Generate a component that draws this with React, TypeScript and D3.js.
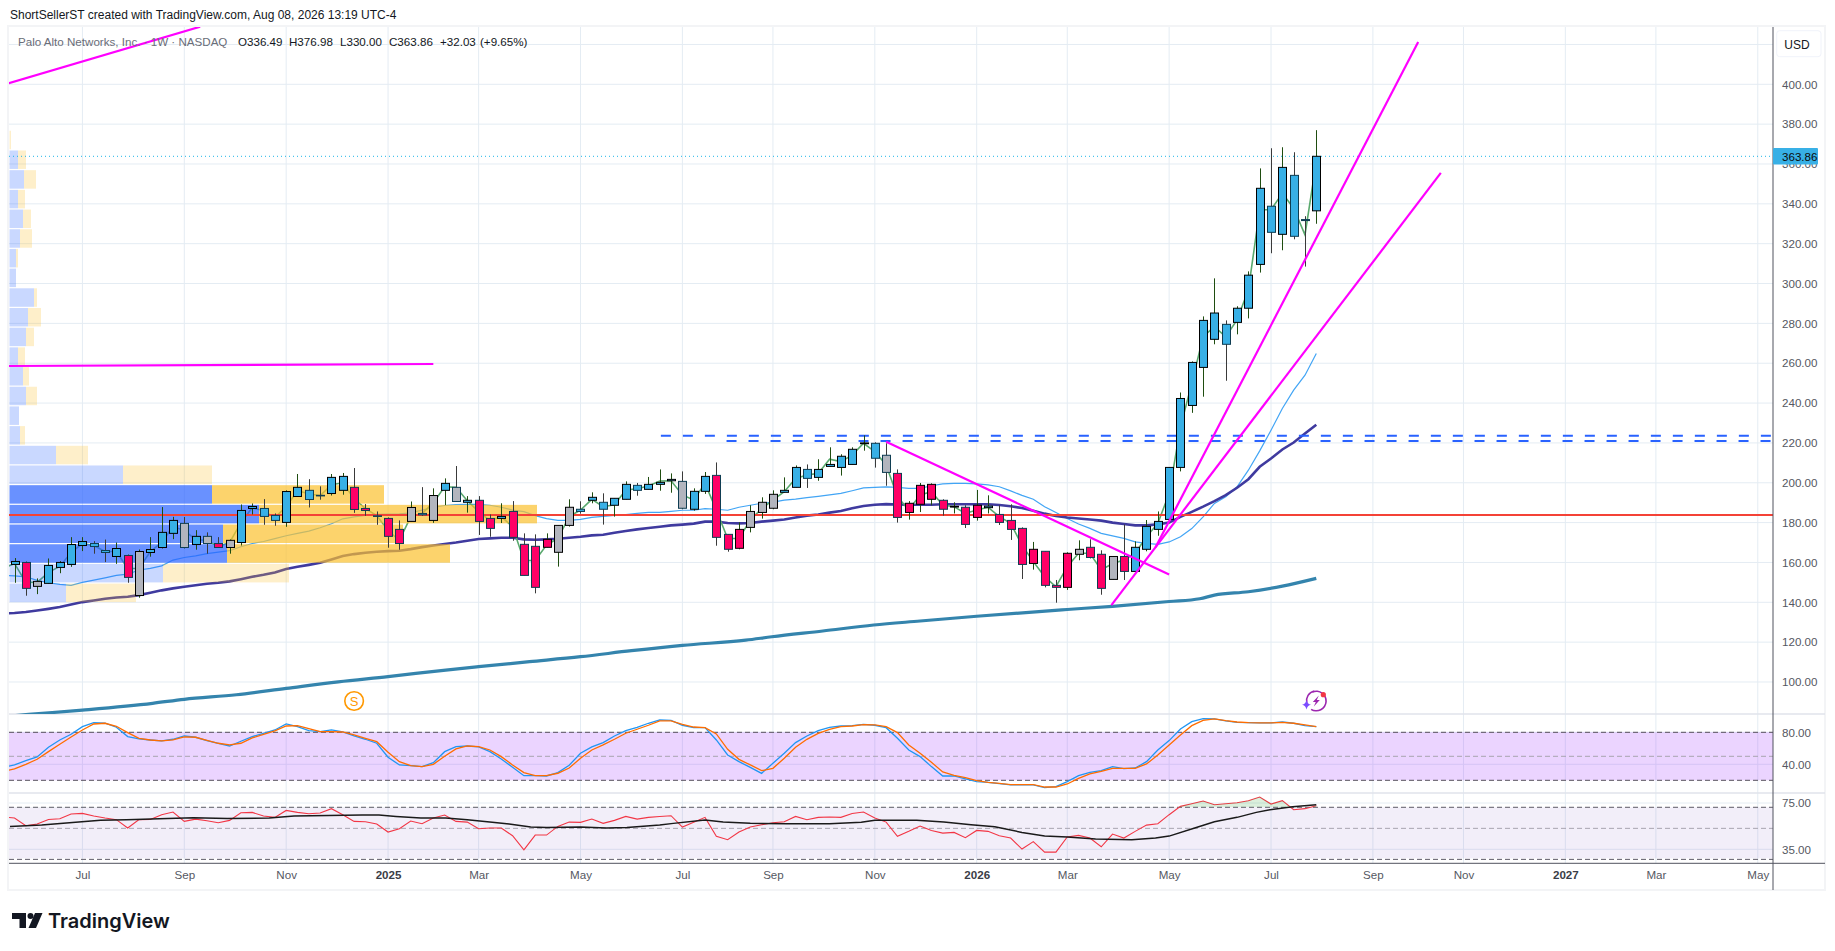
import { useEffect, useRef } from 'react';
import * as d3 from 'd3';

// weekly bars, PANW, index 0 = week of 2024-05-20
const opens = [
  159, 160, 148, 149.5, 157.5, 159, 168.5, 168, 165, 163,
  163.5, 143.4, 165, 167.5, 174.6, 179.6, 169, 173.1, 169.5, 167.5,
  170, 187.1, 183.1, 181.1, 180.1, 193.1, 191.6, 193.4, 194.6, 196.2,
  197.7, 187.1, 183.4, 182.1, 176.6, 180.6, 183.9, 181.1, 196.2, 197.7,
  190.2, 191.2, 182.1, 182.1, 185.6, 169.1, 168.1, 171.6, 165.1, 178.6,
  185.6, 191.2, 186.7, 188.7, 191.7, 196.2, 196.7, 199.2, 201, 200.7,
  186.7, 195.7, 203.7, 174.1, 176.6, 177.6, 185.1, 187.2, 195.2, 197.7,
  202.2, 202.7, 208.2, 207.7, 209.2, 219.6, 212.3, 213.8, 204.7, 189.7,
  198.7, 199.2, 191.2, 188.2, 187.7, 188.7, 188.3, 184.1, 181.1, 177.1,
  166.6, 165.6, 148.5, 147.5, 164.1, 167.6, 164.1, 151.5, 163, 155.5,
  166.6, 176.6, 181.6, 207.7, 238.8, 257.9, 272, 269.5, 280.5, 287.6,
  309.6, 325.7, 324.7, 323.7, 331.6, 336.49,
];
const highs = [
  162.2, 160.5, 152, 162, 160.7, 172.7, 172.7, 170.7, 171.5, 170,
  164, 166.5, 172.7, 187.8, 182.9, 182.8, 176.2, 175.1, 172.7, 171.5,
  189.1, 189.6, 191.8, 184.6, 196.2, 204.4, 201.8, 198.2, 204.4, 204.9,
  207.4, 189.3, 185.6, 182.6, 181.1, 190.6, 197.8, 197.2, 202.2, 208.4,
  193.3, 193.3, 184.1, 189.7, 190.8, 174.6, 174.1, 174.6, 178.6, 191.7,
  190.7, 195.2, 194.7, 192.2, 200.7, 199.9, 202.9, 206.7, 204.7, 205.7,
  197.2, 205.4, 210.2, 174.1, 180.1, 188.7, 192.7, 196.2, 202.7, 208.7,
  209.2, 211.8, 217.8, 214.3, 217.8, 223.8, 220.3, 219.8, 206.7, 190.8,
  199.9, 199.7, 191.7, 190.2, 188.7, 196.4, 193.7, 188.7, 189.2, 177.6,
  170.3, 165.6, 151.2, 165.1, 171.1, 171.6, 166.1, 163, 179.1, 170.6,
  181.3, 185.6, 207.7, 245.3, 260.9, 283.5, 302.6, 281.5, 288.6, 306.1,
  357.8, 367.9, 368.4, 365.9, 333.8, 376.98,
];
const lows = [
  149.8, 143.3, 144.1, 149.5, 154.6, 157.8, 165.7, 164.4, 160.2, 159.3,
  149.8, 142.3, 162.9, 167, 171.7, 167, 166.4, 164.4, 167.5, 164.4,
  168.5, 184.1, 178.9, 178.4, 177.9, 193.1, 187.6, 191.5, 193.6, 194,
  184.9, 183.4, 178.9, 167.4, 166.4, 180.6, 183.4, 179.9, 188.8, 190.6,
  185, 173.8, 172.9, 179.8, 170.9, 153.5, 144.5, 167.6, 157.9, 178,
  184.5, 189.7, 179, 183, 191.7, 193.5, 196.7, 196, 195, 186.7,
  186, 194.4, 168.4, 165.4, 166.6, 175.1, 182, 186.7, 195.2, 197.7,
  197.4, 201, 208.2, 203.6, 209.2, 216.1, 207.6, 198.5, 180, 181.5,
  185.3, 188.7, 183.5, 184.6, 177.3, 181, 184.6, 178.8, 171.3, 151.7,
  156.4, 147.5, 139.8, 146.2, 161.1, 162, 143.8, 151.5, 151.2, 155.5,
  165.6, 173.4, 179.9, 205.7, 235.1, 243.2, 269.5, 251.2, 274.5, 282.5,
  305.5, 315.2, 316.7, 322.2, 308.5, 330,
];
const closes = [
  160.5, 147, 150.5, 158.5, 160, 169, 170.5, 169.5, 166, 167,
  152.5, 165.5, 166.5, 175.1, 181.1, 167.5, 173.1, 169.5, 167.5, 171.1,
  186.1, 188.1, 187.1, 183.6, 195.6, 197.7, 196.2, 193.7, 202.7, 203.2,
  186.6, 186.1, 183.1, 173.1, 169.5, 187.6, 184.6, 193.6, 199.7, 190.6,
  191.2, 180.6, 177.1, 183.1, 172.6, 153.5, 147.5, 167.6, 178.6, 187.7,
  186.7, 192.7, 190.2, 192.2, 199.2, 198.7, 199.2, 200.2, 201.7, 187.2,
  195.7, 203.2, 172.6, 166.6, 167.1, 185.6, 190.2, 194.2, 196.2, 207.7,
  206.7, 206.7, 209.2, 213.3, 216.8, 220, 219.8, 205.2, 182.6, 185.1,
  189.2, 191.7, 186.7, 187.8, 179.1, 182.6, 187.5, 180.1, 176.6, 159,
  159.5, 148.5, 147.5, 164.6, 166.6, 162.5, 147, 163, 155.5, 167.6,
  178.1, 180.6, 207.7, 242.3, 260.4, 281.5, 285.2, 279.5, 287.6, 304.2,
  347.8, 338.8, 358.3, 354.3, 332.1, 363.86,
];
// b = blue, p = pink, g = gray bar paint
const barTone = ('bpgbbbbbbb' + 'pgbbbgbgpg' + 'bbbbbbbbbb' + 'ppbppgbgbg' + 'bppbppppgg' + 'bbbbbbbbbg' +
  'bbpppgggbb' + 'bbbbbbbgpp' + 'pppbppbppp' + 'ppppgppgpb' + 'bbbbbbbbbb' + 'bbbbbb').split('');

const smoothLine = [
  159.5, 150, 150, 155, 158, 165, 169.5, 168.5, 165.5, 165.5,
  157, 157, 165.5, 170, 178, 176, 171.5, 171, 168, 170,
  180, 187.5, 186, 182.5, 188, 196, 194.5, 193.5, 199, 200,
  192, 187, 183.5, 176, 171, 183, 184.5, 190, 198, 197.7,
  191, 185.5, 181, 183, 178, 161, 161, 168.7, 172, 183,
  186.3, 191.7, 188, 189, 196.4, 197, 198.4, 200.9, 201, 193.9,
  191.3, 199.7, 186.3, 172, 172, 181.3, 187, 191.3, 195.5, 202.2,
  203.9, 204.7, 211.8, 210.6, 213.9, 219.8, 215.6, 208.9, 193, 186.3,
  193.9, 195.5, 188.8, 188, 184.6, 186.3, 187.7, 183, 179.6, 168.7,
  160.4, 152.9, 147.8, 157.9, 164.6, 164.6, 156.2, 159.5, 161.2, 164.6,
  172.9, 179.6, 194.6, 228, 249.9, 273.3, 278.4, 273.3, 281.7, 296.8,
  337, 337, 345.3, 337.8, 324.4, 361.2,
];
const maFast = [
  153.3, 152.8, 151, 149.8, 149, 148.5, 150, 151.1, 152.3, 153.5,
  154.1, 156.2, 157, 158.3, 161.2, 162.5, 163.3, 164.4, 165.2, 165.9,
  167.9, 169.5, 170.5, 172, 173.4, 174.6, 175.7, 177.4, 179.4, 181.9,
  182.9, 183.6, 184.1, 184.3, 184.4, 184.9, 186.3, 187.6, 188.6, 189.1,
  189.2, 189.2, 188.7, 187.7, 186.3, 185.5, 183.5, 182, 181.1, 181.1,
  181.6, 182.6, 183.1, 183.6, 184, 184.6, 185.1, 185.1, 185.6, 186.2,
  186.2, 187, 186.7, 186.2, 187.7, 188.7, 189.7, 190.3, 191.3, 191.8,
  192.5, 193.2, 193.9, 194.7, 196, 197.4, 197.7, 197.9, 197.7, 197.2,
  197.2, 198.5, 199.4, 199.7, 199.7, 199.4, 198.9, 198, 195.9, 193.7,
  191.7, 188, 185.1, 182.1, 179.3, 177.1, 174.6, 173.3, 172.1, 170.3,
  169.6, 169.1, 170.3, 172.9, 177, 182.9, 189.6, 193, 198, 206.3,
  216, 226.4, 237.3, 246.5, 254, 264.9,
];
const maMid = [
  134.6, 135.1, 135.9, 136.7, 137.6, 138.9, 140.1, 140.9, 141.8, 142.4,
  142.8, 143.6, 144.8, 146, 147, 147.8, 148.6, 149.3, 149.8, 150.5,
  151.6, 152.8, 153.8, 155, 156.7, 157.8, 158.8, 159.8, 161.5, 163.2,
  164.2, 164.9, 165.4, 165.7, 165.9, 166.7, 167.7, 168.5, 169.3, 170,
  170.9, 171.8, 172.1, 172.4, 172.4, 171.6, 171.4, 171.6, 171.9, 172.4,
  172.9, 173.6, 173.9, 174.9, 175.8, 176.6, 177.3, 177.9, 178.6, 179,
  179.5, 180.5, 180.5, 179.8, 179.6, 179.8, 180.5, 181, 181.6, 182.6,
  183.5, 184.1, 185, 185.8, 187.2, 188.3, 189, 189.3, 189.1, 189,
  189, 189, 189.2, 189.2, 189.2, 189.2, 189.2, 188.8, 188.2, 187.3,
  186, 184.5, 183.3, 182.6, 182.1, 181.6, 181, 180, 179.3, 178.6,
  178.6, 179.1, 180, 182.9, 185.4, 188, 190.8, 193.8, 197.5, 201.8,
  208, 212.2, 216.7, 220.2, 224.7, 229.1,
];
// long average read at the points where it could be read
const maSlowWeek = [-1, 1.25, 6, 12.2, 15, 19.6, 24, 28.6, 33, 38.1, 41, 45.5, 50, 54.5, 59, 64.6, 66.9, 71.4, 75.9, 80, 85, 93, 97, 102, 104.7, 106, 109, 112, 115];
const maSlowVal = [82.6, 83.7, 85.9, 89.3, 91.3, 93.6, 96.8, 100.1, 102.7, 106, 107.7, 110.2, 112.7, 115.7, 118.4, 121, 122.7, 125.6, 128.6, 130.6, 133, 136.4, 138, 140.4, 141.8, 143.6, 145.3, 148.1, 152];

const stochK = [
  39.2, 44.6, 49.2, 61.3, 70.4, 77.5, 87.1, 92.1, 91.3, 86.3,
  74.6, 71.7, 70.4, 69.2, 71.3, 75.4, 73.8, 69.6, 66.3, 62.9,
  68.8, 74.6, 78.8, 82.9, 90.4, 87.1, 82.1, 80.8, 82.9, 80.4,
  75.4, 71.3, 66.3, 48.8, 39.2, 38.3, 37.1, 42.1, 55.8, 62.1,
  62.9, 61.7, 55.8, 46.7, 36.3, 25.8, 25.8, 25.4, 29.6, 38.8,
  53.8, 61.7, 67.1, 75.4, 82.1, 86.3, 91.3, 95.4,
  95, 88.8, 85.8, 85.8, 70.4, 51.7, 43.3, 36.2, 28.7, 41.2, 53.7, 67.1,
  75.4, 82.1, 86.2, 87.9, 88.3, 90, 88.8, 85.8, 72.5, 57.9,
  49.6, 37.1, 25.4, 25.4, 21.7, 18.3, 17.5, 15.8, 14.2, 14.6,
  14.2, 10.8, 12.1, 18.3, 25.8, 30, 32.1, 37.1, 34.6, 35.4,
  43.3, 57.9, 69.6, 84.2, 93.3, 97.1, 96.7, 94.2, 92.5, 92.1,
  91.7, 91.7, 92.9, 91.3, 88.3, 87.1,
];
const stochD = [
  34.2, 40, 46.3, 55.8, 65, 74.2, 82.9, 90.4, 91.3, 87.5,
  79.6, 72.5, 70.4, 69.2, 70.4, 74.2, 73.8, 70, 66.3, 64.2,
  66.3, 72.9, 77.5, 81.7, 87.9, 88.3, 84.6, 80.8, 80.8, 80.4,
  76.7, 72.5, 68.3, 55, 43.3, 38.3, 37.1, 40, 50, 59.2,
  62.9, 62.1, 57.9, 49.6, 39.2, 29.6, 25.8, 25.8, 28.8, 35.4,
  47.5, 57.9, 64.2, 71.3, 78.8, 83.8, 88.8, 94.2,
  94.2, 90, 86.6, 85.8, 77.9, 58.7, 46.2, 39.2, 32.1, 35, 47.5, 61.2,
  71.2, 78.7, 83.7, 87.1, 87.9, 89.6, 89.2, 87.1, 79.6, 64.2,
  53.7, 42.5, 30.4, 26.2, 23.3, 19.6, 17.5, 16.2, 14.6, 14.6,
  14.6, 11.6, 11.6, 15.4, 22.5, 27.9, 31.2, 35, 35, 35,
  40.4, 51.7, 64.2, 76.7, 88.3, 95, 96.7, 94.6, 92.9, 92.1,
  91.7, 91.7, 92.5, 91.3, 89.2, 87.1,
];
const rsiLine = [
  62, 55.4, 56.8, 60.8, 61.4, 65.5, 66, 63.7, 62, 60.6,
  53.4, 60.6, 60.8, 64.9, 67.2, 59.1, 61.1, 59.7, 58, 60,
  66.6, 66.9, 63.7, 62.6, 68.6, 66.9, 65.7, 66.3, 70.1, 64.9,
  59.1, 58.8, 56.8, 49.9, 52.8, 59.4, 57.1, 62, 64.6, 59.1,
  58.5, 52.8, 53.4, 53.4, 46.7, 34.6, 47.3, 47.3, 54.8, 58.5,
  58.3, 61.1, 57.4, 60, 63.4, 61.1, 62.6, 63.4,
  64, 54.2, 58.3, 62.6, 46.2, 43.3, 49.9, 54.2, 56.2, 58, 58.8, 63.4,
  60.6, 62.6, 62.9, 62.6, 66, 67.2, 62, 58.5, 46.2, 50.5,
  55.1, 51.3, 49, 49.6, 45, 51.3, 50.5, 46.7, 44.7, 35.2,
  41.6, 32.6, 32.6, 45.6, 47, 44.7, 37.2, 48.2, 44.7, 50.5,
  55.9, 57.1, 64.9, 72.1, 74.4, 76.7, 73.5, 74.4, 75.2, 77,
  80.1, 74.1, 77, 69.2, 70.1, 72.7,
];
const rsiMaWeek = [-0.4, 2.4, 5.4, 7.6, 9.9, 12.8, 15.8, 18.8, 22.5, 24.7, 27.7, 30.7, 32.2, 33.7, 35.9, 38.1, 40, 42.2, 43.7, 45.6, 47, 50, 52.3, 54.1, 57, 58.2, 61, 62.6, 65, 68.3, 72, 74.8, 76, 79.7, 82.1, 84.5, 86.6, 89, 91, 93, 95.5, 98.7, 100.8, 102, 104.4, 106, 108, 109.7, 110.9, 112.9, 115];
const rsiMaVal = [54.8, 56, 58.3, 60, 60.6, 61.4, 62.3, 61.7, 62, 63.7, 64.3, 64.6, 64.6, 63.4, 62, 62, 60.6, 58.3, 56.8, 54.2, 53.9, 54.2, 53.4, 53.9, 56, 57.4, 60.3, 58.5, 57.4, 57.1, 57.1, 58.3, 60, 60, 58.5, 56.2, 54.5, 49.6, 46.4, 45.6, 43.9, 43.3, 44.7, 46.4, 53.9, 58.8, 62.6, 66.9, 69.2, 71.8, 73.5];

// values one bar before the first one, they run off the left edge
const leadIn = { smooth: 157, maFast: 153.5, maMid: 134.4, stochK: 36, stochD: 31, rsi: 63 };

// visible range volume profile, 24 rows from the low up
const vpLow = 139.8;
const vpStep = 9.882;
const vpUp = [56.5, 153.5, 217.5, 213.5, 249.5, 202.5, 113.5, 46.5, 10.5, 9.5, 16.5, 13.5, 8.5, 16.5, 18.5, 24.5, 6.5, 6.5, 10.5, 13.5, 8.5, 14.5, 8.5, 0];
const vpDown = [70, 126, 223, 180, 278, 172, 89, 32, 5, 0, 11, 6, 7, 8, 13, 3, 0, 2, 12, 8, 7, 12, 8, 1.5];
const vpValueArea = [2, 3, 4, 5];

const priceTicks = d3.range(100, 401, 20);
const stochTicks = [40, 80];
const rsiTicks = [35, 75];
const stochLevels = [80, 50, 20];
const rsiLevels = [71.3, 53.1, 26.3];
const timeWeeks = [6, 15, 24, 33, 41, 50, 59, 67, 76, 85, 93, 102, 111, 120, 128, 137, 145, 154];
const timeLabels = ['Jul', 'Sep', 'Nov', '2025', 'Mar', 'May', 'Jul', 'Sep', 'Nov', '2026', 'Mar', 'May', 'Jul', 'Sep', 'Nov', '2027', 'Mar', 'May'];

const pocPrice = 183.8;
const lastPrice = 363.86;
const dashedLevels = [
  { price: 223.6, from: 57.1 },
  { price: 221, from: 62.9 },
];
// trendlines as [week, price] ends
const trendLines = [
  [[-0.5, 400.5], [16.4, 428.9]],
  [[-0.5, 258.6], [37, 259.6]],
  [[77, 220.6], [102, 154]],
  [[96.9, 138.6], [126, 355.5]],
  [[100.8, 167.6], [124, 421.2]],
];

const WIDTH = 1835;
const HEIGHT = 951;
const LEFT = 9;
const RIGHT = 1773;
const TOP = 27;
const MAIN_BOTTOM = 714;
const STOCH_BOTTOM = 793;
const RSI_BOTTOM = 863.3;
const FRAME_RIGHT = 1825;
const FRAME_BOTTOM = 890;
const FONT = '"Liberation Sans", Arial, sans-serif';
const GRID = '#e4ecf3';

export default function App() {
  const svgRef = useRef<SVGSVGElement>(null);

  useEffect(() => {
    if (!svgRef.current) return;
    d3.select(svgRef.current).selectAll('*').remove();
    const svg = d3.select(svgRef.current);

    const x = d3.scaleLinear().domain([0, 115]).range([14.5, 1316.3]);
    const y = d3.scaleLinear().domain([140, 400]).range([602.3, 84.3]);
    const yStoch = d3.scaleLinear().domain([20, 80]).range([780.3, 732.3]);
    const yRsi = d3.scaleLinear().domain([35, 75]).range([849.3, 803]);
    const vpX = d3.scaleLinear().domain([0, 527.5]).range([9.5, 537]);

    const defs = svg.append('defs');
    defs.append('clipPath').attr('id', 'mainClip').append('rect')
      .attr('x', LEFT).attr('y', TOP).attr('width', RIGHT - LEFT).attr('height', MAIN_BOTTOM - TOP);
    defs.append('clipPath').attr('id', 'paneClip').append('rect')
      .attr('x', LEFT).attr('y', MAIN_BOTTOM).attr('width', RIGHT - LEFT).attr('height', RSI_BOTTOM - MAIN_BOTTOM);
    defs.append('clipPath').attr('id', 'rsiTop').append('rect')
      .attr('x', LEFT).attr('y', 793).attr('width', RIGHT - LEFT).attr('height', yRsi(rsiLevels[0]) - 793);

    svg.append('rect').attr('width', WIDTH).attr('height', HEIGHT).attr('fill', '#fff');
    svg.append('rect')
      .attr('x', 8).attr('y', 26).attr('width', FRAME_RIGHT - 8).attr('height', FRAME_BOTTOM - 26)
      .attr('fill', '#fff').attr('stroke', '#f3f4f6').attr('stroke-width', 2);

    // grid
    const grid = svg.append('g').attr('stroke', GRID).attr('stroke-width', 1);
    timeWeeks.forEach(w => {
      grid.append('line').attr('x1', x(w)).attr('x2', x(w)).attr('y1', TOP).attr('y2', RSI_BOTTOM);
    });
    priceTicks.concat([420]).forEach(p => {
      grid.append('line').attr('x1', LEFT).attr('x2', RIGHT).attr('y1', y(p)).attr('y2', y(p));
    });
    stochTicks.forEach(v => {
      grid.append('line').attr('x1', LEFT).attr('x2', RIGHT).attr('y1', yStoch(v)).attr('y2', yStoch(v));
    });
    rsiTicks.forEach(v => {
      grid.append('line').attr('x1', LEFT).attr('x2', RIGHT).attr('y1', yRsi(v)).attr('y2', yRsi(v));
    });
    [MAIN_BOTTOM, STOCH_BOTTOM].forEach(py => {
      svg.append('line').attr('x1', LEFT).attr('x2', FRAME_RIGHT).attr('y1', py).attr('y2', py)
        .attr('stroke', '#e0e3eb').attr('stroke-width', 1.5);
    });

    const main = svg.append('g').attr('clip-path', 'url(#mainClip)');
    const panes = svg.append('g').attr('clip-path', 'url(#paneClip)');

    const lineOf = (vals: number[], lead: number, sy: d3.ScaleLinear<number, number>) =>
      d3.line<number>().x((_, i) => x(i - 1)).y(d => sy(d))([lead, ...vals]);

    // moving averages sit under the profile
    main.append('path').attr('d', lineOf(maFast, leadIn.maFast, y)).attr('fill', 'none').attr('stroke', '#42a5f5').attr('stroke-width', 1.2);
    main.append('path').attr('d', lineOf(maMid, leadIn.maMid, y)).attr('fill', 'none').attr('stroke', '#3f3a9f').attr('stroke-width', 2.6);
    const slowLine = d3.line<number>().x((_, i) => x(maSlowWeek[i])).y(d => y(d)).curve(d3.curveMonotoneX);
    main.append('path').attr('d', slowLine(maSlowVal)).attr('fill', 'none').attr('stroke', '#3484ad').attr('stroke-width', 3.2);
    main.append('path').attr('d', lineOf(smoothLine, leadIn.smooth, y)).attr('fill', 'none').attr('stroke', '#5aa96e').attr('stroke-width', 1.6);

    // volume profile
    const vp = main.append('g');
    vpUp.forEach((up, i) => {
      const top = y(vpLow + vpStep * (i + 1)) + 0.6;
      const bottom = y(vpLow + vpStep * i) - 0.6;
      const inVA = vpValueArea.includes(i);
      vp.append('rect').attr('x', vpX(0)).attr('y', top).attr('width', vpX(up) - vpX(0)).attr('height', bottom - top)
        .attr('fill', '#2962ff').attr('fill-opacity', inVA ? 0.7 : 0.25);
      vp.append('rect').attr('x', vpX(up)).attr('y', top).attr('width', vpX(up + vpDown[i]) - vpX(up)).attr('height', bottom - top)
        .attr('fill', '#fbc02d').attr('fill-opacity', inVA ? 0.7 : 0.25);
    });

    // level lines
    main.append('line').attr('x1', LEFT).attr('x2', RIGHT).attr('y1', y(lastPrice)).attr('y2', y(lastPrice))
      .attr('stroke', '#1fb6e8').attr('stroke-width', 1).attr('stroke-dasharray', '1 3');
    main.append('line').attr('x1', LEFT).attr('x2', RIGHT).attr('y1', y(pocPrice)).attr('y2', y(pocPrice))
      .attr('stroke', '#f44236').attr('stroke-width', 2);
    dashedLevels.forEach(l => {
      main.append('line').attr('x1', x(l.from)).attr('x2', RIGHT).attr('y1', y(l.price)).attr('y2', y(l.price))
        .attr('stroke', '#2962ff').attr('stroke-width', 2).attr('stroke-dasharray', '10 12');
    });

    // candles
    const bars = main.append('g');
    closes.forEach((c, i) => {
      const falling = i > 0 && c < closes[i - 1];
      const o = opens[i];
      const cx = Math.round(x(i)) + 0.5;
      bars.append('line').attr('x1', cx).attr('x2', cx).attr('y1', y(highs[i])).attr('y2', y(lows[i]))
        .attr('stroke', falling ? '#3a3a3a' : '#1f4d10').attr('stroke-width', 1);
      const top = y(Math.max(o, c));
      const h = Math.max(0.5, y(Math.min(o, c)) - top);
      const tone = barTone[i];
      bars.append('rect')
        .attr('x', cx - 4).attr('width', 8).attr('y', top).attr('height', h)
        .attr('fill', tone === 'b' ? '#38b0e6' : tone === 'p' ? '#ff0066' : '#b2b5be')
        .attr('stroke', falling ? '#0f3d52' : '#000').attr('stroke-width', 1);
    });

    // trendlines go on top
    trendLines.forEach(t => {
      main.append('line')
        .attr('x1', x(t[0][0])).attr('y1', y(t[0][1]))
        .attr('x2', x(t[1][0])).attr('y2', y(t[1][1]))
        .attr('stroke', '#ff00ff').attr('stroke-width', 2.2);
    });

    // S marker and forecast marker
    const sMark = svg.append('g').attr('transform', `translate(${x(30)},701)`);
    sMark.append('circle').attr('r', 9.3).attr('fill', '#fff').attr('stroke', '#ff9800').attr('stroke-width', 1.6);
    sMark.append('text').attr('text-anchor', 'middle').attr('y', 4.5).attr('fill', '#ff9800')
      .attr('font-family', FONT).attr('font-size', 13).text('S');
    const bolt = svg.append('g').attr('transform', `translate(${x(115)},701)`);
    bolt.append('path').attr('d', d3.arc()({ innerRadius: 9, outerRadius: 10.6, startAngle: -0.4, endAngle: 3.7 } as any))
      .attr('fill', '#9c27b0');
    bolt.append('path').attr('d', 'M-2 -10 A10 10 0 0 0 -9.5 2').attr('fill', 'none').attr('stroke', '#9c27b0').attr('stroke-width', 1.6);
    bolt.append('path').attr('d', 'M2.5 -5.5 L-3.5 1 L-0.5 1 L-2.5 5.5 L3.5 -1 L0.5 -1 Z').attr('fill', '#9c27b0');
    bolt.append('circle').attr('cx', 7).attr('cy', -6.3).attr('r', 2.6).attr('fill', '#f23645');
    bolt.append('path').attr('d', 'M-9.8 -1 Q-9 3 -5.3 3.7 Q-9 4.4 -9.8 8.4 Q-10.6 4.4 -14.3 3.7 Q-10.6 3 -9.8 -1 Z').attr('fill', '#7c4dff');

    // stochastic pane
    panes.append('rect').attr('x', LEFT).attr('width', RIGHT - LEFT).attr('y', yStoch(80)).attr('height', yStoch(20) - yStoch(80))
      .attr('fill', '#9c27ff').attr('fill-opacity', 0.2);
    stochLevels.forEach((v, i) => {
      panes.append('line').attr('x1', LEFT).attr('x2', RIGHT).attr('y1', yStoch(v)).attr('y2', yStoch(v))
        .attr('stroke', i === 1 ? '#a8a4b0' : '#55505c').attr('stroke-width', 1).attr('stroke-dasharray', '5 3');
    });
    panes.append('path').attr('d', lineOf(stochK, leadIn.stochK, yStoch)).attr('fill', 'none').attr('stroke', '#2196f3').attr('stroke-width', 1.3);
    panes.append('path').attr('d', lineOf(stochD, leadIn.stochD, yStoch)).attr('fill', 'none').attr('stroke', '#ff6d00').attr('stroke-width', 1.3);

    // rsi pane
    panes.append('rect').attr('x', LEFT).attr('width', RIGHT - LEFT).attr('y', yRsi(rsiLevels[0])).attr('height', 51)
      .attr('fill', '#7e57c2').attr('fill-opacity', 0.1);
    rsiLevels.forEach((v, i) => {
      panes.append('line').attr('x1', LEFT).attr('x2', RIGHT).attr('y1', yRsi(v)).attr('y2', yRsi(v))
        .attr('stroke', i === 1 ? '#a8a4b0' : '#5d5a66').attr('stroke-width', 1).attr('stroke-dasharray', '5 3');
    });
    const rsiArea = d3.area<number>().x((_, i) => x(i)).y0(yRsi(rsiLevels[0])).y1(d => yRsi(d));
    svg.append('path').attr('d', rsiArea(rsiLine)).attr('clip-path', 'url(#rsiTop)')
      .attr('fill', '#4caf50').attr('fill-opacity', 0.2);
    panes.append('path').attr('d', lineOf(rsiLine, leadIn.rsi, yRsi)).attr('fill', 'none').attr('stroke', '#f23645').attr('stroke-width', 1.1);
    const rsiMa = d3.line<number>().x((_, i) => x(rsiMaWeek[i])).y(d => yRsi(d));
    panes.append('path').attr('d', rsiMa(rsiMaVal)).attr('fill', 'none').attr('stroke', '#1a1a1a').attr('stroke-width', 1.5);

    // axes
    const styleAxis = (g: any) => {
      g.select('.domain').remove();
      g.selectAll('.tick line').remove();
      g.selectAll('text').attr('font-family', FONT).attr('font-size', 11.6).attr('fill', '#555862');
    };
    svg.append('g').attr('transform', `translate(${RIGHT},0)`)
      .call(d3.axisRight(y).tickValues(priceTicks).tickSize(0).tickPadding(9).tickFormat(d => (d as number).toFixed(2)))
      .call(styleAxis);
    svg.append('g').attr('transform', `translate(${RIGHT},0)`)
      .call(d3.axisRight(yStoch).tickValues(stochTicks).tickSize(0).tickPadding(9).tickFormat(d => (d as number).toFixed(2)))
      .call(styleAxis);
    svg.append('g').attr('transform', `translate(${RIGHT},0)`)
      .call(d3.axisRight(yRsi).tickValues(rsiTicks).tickSize(0).tickPadding(9).tickFormat(d => (d as number).toFixed(2)))
      .call(styleAxis);
    const timeAxis = svg.append('g').attr('transform', `translate(0,${RSI_BOTTOM})`)
      .call(d3.axisBottom(x).tickValues(timeWeeks).tickSize(0).tickPadding(7).tickFormat((_, i) => timeLabels[i]))
      .call(styleAxis);
    timeAxis.selectAll('text')
      .filter((_, i) => timeLabels[i].length === 4)
      .attr('fill', '#3a3d46').attr('font-weight', 'bold');

    svg.append('line').attr('x1', RIGHT).attr('x2', RIGHT).attr('y1', TOP).attr('y2', FRAME_BOTTOM)
      .attr('stroke', '#50535e').attr('stroke-width', 1);
    svg.append('line').attr('x1', LEFT).attr('x2', FRAME_RIGHT).attr('y1', RSI_BOTTOM).attr('y2', RSI_BOTTOM)
      .attr('stroke', '#50535e').attr('stroke-width', 1);

    // last price tag
    svg.append('rect').attr('x', RIGHT).attr('y', y(lastPrice) - 8.3).attr('width', 45).attr('height', 16.6).attr('rx', 1)
      .attr('fill', '#38b0e6');
    svg.append('text').attr('x', RIGHT + 9).attr('y', y(lastPrice) + 4.3)
      .attr('font-family', FONT).attr('font-size', 11.6).attr('fill', '#0b0b0b').text(lastPrice.toFixed(2));

    // currency button
    svg.append('rect').attr('x', 1776.7).attr('y', 30.7).attr('width', 44.3).attr('height', 26).attr('rx', 3)
      .attr('fill', '#fff').attr('stroke', '#f0f3fa').attr('stroke-width', 1);
    svg.append('text').attr('x', 1797).attr('y', 48.7).attr('text-anchor', 'middle')
      .attr('font-family', FONT).attr('font-size', 12).attr('fill', '#131722').text('USD');

    // header and legend
    svg.append('text').attr('x', 10).attr('y', 19)
      .attr('font-family', FONT).attr('font-size', 12).attr('fill', '#131722')
      .text('ShortSellerST created with TradingView.com, Aug 08, 2026 13:19 UTC-4');
    const legend = [
      { x: 18, text: 'Palo Alto Networks, Inc. · 1W · NASDAQ', fill: '#6a6d78' },
      { x: 238, text: 'O336.49', fill: '#131722' },
      { x: 289, text: 'H376.98', fill: '#131722' },
      { x: 340, text: 'L330.00', fill: '#131722' },
      { x: 389, text: 'C363.86', fill: '#131722' },
      { x: 440, text: '+32.03', fill: '#131722' },
      { x: 480, text: '(+9.65%)', fill: '#131722' },
    ];
    legend.forEach(l => {
      svg.append('text').attr('x', l.x).attr('y', 46)
        .attr('font-family', FONT).attr('font-size', 11.6).attr('fill', l.fill).text(l.text);
    });

    // logo
    const logo = svg.append('g').attr('fill', '#131722');
    logo.append('path').attr('d', 'M12 913 H26 V928 H19.5 V919 H12 Z');
    logo.append('circle').attr('cx', 30.5).attr('cy', 916).attr('r', 3);
    logo.append('path').attr('d', 'M35 913 H42.5 L36 928 H28.5 Z');
    logo.append('text').attr('x', 48).attr('y', 928)
      .attr('font-family', '"Inter", sans-serif').attr('font-weight', 600).attr('font-size', 20).text('TradingView');
  }, []);

  return <svg ref={svgRef} width={WIDTH} height={HEIGHT} style={{ position: 'absolute', left: 0, top: 0, display: 'block' }} />;
}
